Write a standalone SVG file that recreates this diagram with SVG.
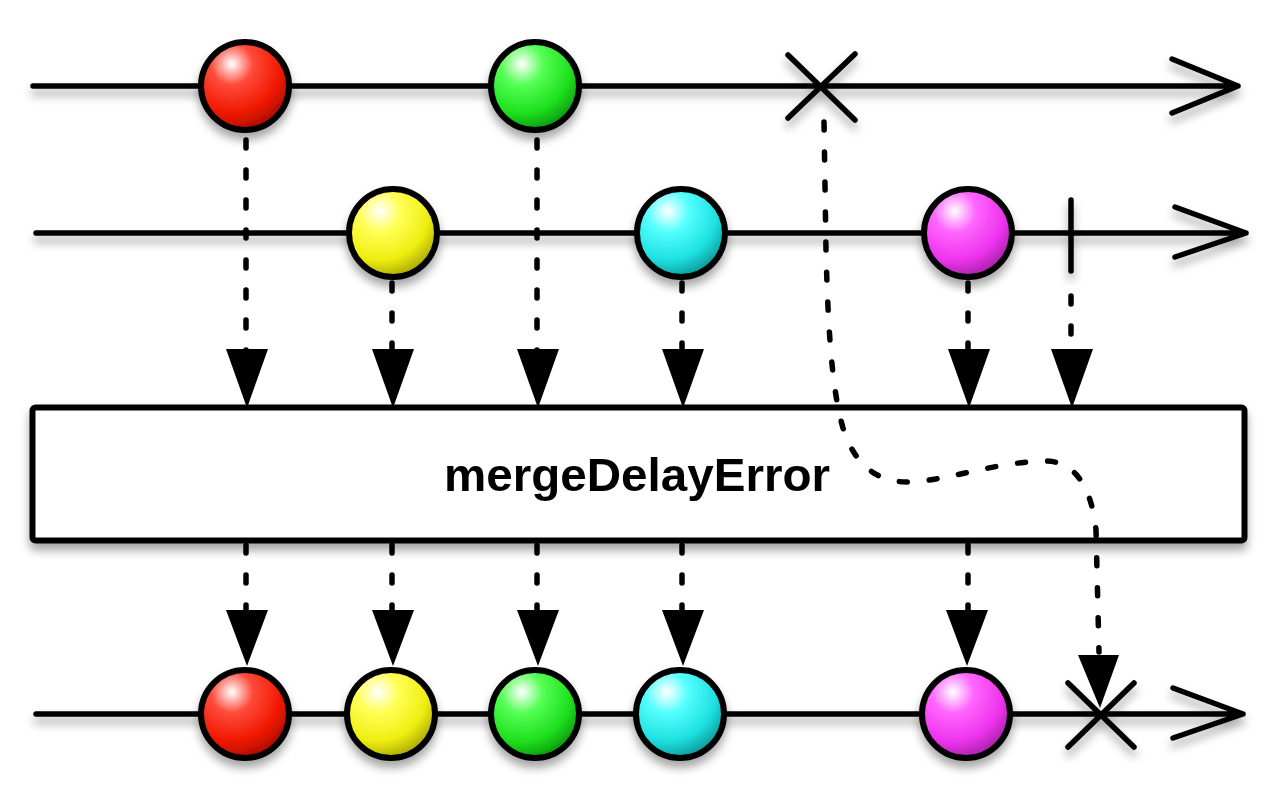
<svg xmlns="http://www.w3.org/2000/svg" width="1280" height="800" viewBox="0 0 1280 800">
<defs>
<filter id="sh" x="-20%" y="-20%" width="140%" height="160%">
<feDropShadow dx="0" dy="7" stdDeviation="5" flood-color="#000" flood-opacity="0.35"/>
</filter>
<radialGradient id="gRed" cx="0.35" cy="0.25" r="0.8"><stop offset="0" stop-color="#ffffff"/><stop offset="0.3" stop-color="#ff4a3a"/><stop offset="0.7" stop-color="#f01800"/><stop offset="1" stop-color="#a00c00"/></radialGradient>
<radialGradient id="gYellow" cx="0.35" cy="0.25" r="0.8"><stop offset="0" stop-color="#ffffff"/><stop offset="0.3" stop-color="#ffff55"/><stop offset="0.7" stop-color="#eeee10"/><stop offset="1" stop-color="#a0a000"/></radialGradient>
<radialGradient id="gGreen" cx="0.35" cy="0.25" r="0.8"><stop offset="0" stop-color="#ffffff"/><stop offset="0.3" stop-color="#55ff55"/><stop offset="0.7" stop-color="#1ee01e"/><stop offset="1" stop-color="#0a900a"/></radialGradient>
<radialGradient id="gCyan" cx="0.35" cy="0.25" r="0.8"><stop offset="0" stop-color="#ffffff"/><stop offset="0.3" stop-color="#55ffff"/><stop offset="0.7" stop-color="#1ee0e0"/><stop offset="1" stop-color="#0a9090"/></radialGradient>
<radialGradient id="gMagenta" cx="0.35" cy="0.25" r="0.8"><stop offset="0" stop-color="#ffffff"/><stop offset="0.3" stop-color="#ff66ff"/><stop offset="0.7" stop-color="#ee33ee"/><stop offset="1" stop-color="#a020a0"/></radialGradient>
</defs>
<style>
.ln{stroke:#000;stroke-width:5.5;fill:none;stroke-linecap:round;stroke-linejoin:round}
.dot{stroke:#000;stroke-width:5.5;fill:none;stroke-linecap:round;stroke-dasharray:8 22}
.mb{stroke:#000;stroke-width:6}
.tri{fill:#000}
.lbl{font-family:"Liberation Sans",Arial,sans-serif;font-weight:bold;font-size:47px;fill:#000}
</style>
<rect width="1280" height="800" fill="#fff"/>

<g id="timelines" filter="url(#sh)">
<path class="ln" d="M33,86 H1238 M1172,59 L1238,86 L1172,113"/>
<path class="ln" d="M36,233 H1246 M1175,207 L1246,233 L1175,257"/>
<path class="ln" d="M36,714 H1243 M1173,688 L1243,714 L1173,738"/>
<path class="ln" d="M788,55 L855,120 M855,54 L788,118"/>
<path class="ln" d="M1071,200 V271"/>
<path class="ln" d="M1068,683 L1134,747 M1134,683 L1068,747"/>
</g>

<g id="box" filter="url(#sh)">
<rect x="32.5" y="407.5" width="1212" height="133" rx="3" fill="#fff" stroke="#000" stroke-width="6"/>
<text class="lbl" x="637" y="491" text-anchor="middle" textLength="386" lengthAdjust="spacingAndGlyphs">mergeDelayError</text>
</g>

<g id="connectors">
<path class="dot" d="M246,140 V352"/>
<path class="dot" d="M392,283 V352"/>
<path class="dot" d="M537,140 V352"/>
<path class="dot" d="M682,283 V352"/>
<path class="dot" d="M968,283 V352"/>
<path class="dot" d="M1071,296 V352"/>
<polygon class="tri" points="226,349 268,349 247,408"/>
<polygon class="tri" points="372,349 414,349 393,408"/>
<polygon class="tri" points="517,349 559,349 538,408"/>
<polygon class="tri" points="662,349 704,349 683,408"/>
<polygon class="tri" points="948,349 990,349 969,408"/>
<polygon class="tri" points="1051,349 1093,349 1072,408"/>

<path class="dot" d="M246,545 V612"/>
<path class="dot" d="M392,545 V612"/>
<path class="dot" d="M537,545 V612"/>
<path class="dot" d="M682,545 V612"/>
<path class="dot" d="M968,545 V612"/>
<polygon class="tri" points="226,610 268,610 247,666"/>
<polygon class="tri" points="372,610 414,610 393,666"/>
<polygon class="tri" points="517,610 559,610 538,666"/>
<polygon class="tri" points="662,610 704,610 683,666"/>
<polygon class="tri" points="946,610 988,610 967,666"/>

<path class="dot" d="M824,122 L826,250 C828,330 832,390 843,428 C855,466 878,483 910,482 C950,480 995,462 1045,461 C1078,461 1092,492 1096,530 L1099,652"/>
<polygon class="tri" points="1078,655 1119,655 1100,708"/>
</g>

<g id="src1">
<circle id="n-red1" cx="245" cy="86" r="44" fill="url(#gRed)" class="mb" filter="url(#sh)"/>
<circle id="n-green1" cx="535" cy="86" r="44" fill="url(#gGreen)" class="mb" filter="url(#sh)"/>
</g>
<g id="src2">
<circle id="n-yellow1" cx="393" cy="233" r="44" fill="url(#gYellow)" class="mb" filter="url(#sh)"/>
<circle id="n-cyan1" cx="681" cy="233" r="44" fill="url(#gCyan)" class="mb" filter="url(#sh)"/>
<circle id="n-magenta1" cx="968" cy="233" r="44" fill="url(#gMagenta)" class="mb" filter="url(#sh)"/>
</g>
<g id="out">
<circle id="n-red2" cx="245" cy="714" r="44" fill="url(#gRed)" class="mb" filter="url(#sh)"/>
<circle id="n-yellow2" cx="391" cy="714" r="44" fill="url(#gYellow)" class="mb" filter="url(#sh)"/>
<circle id="n-green2" cx="535" cy="714" r="44" fill="url(#gGreen)" class="mb" filter="url(#sh)"/>
<circle id="n-cyan2" cx="680" cy="714" r="44" fill="url(#gCyan)" class="mb" filter="url(#sh)"/>
<circle id="n-magenta2" cx="966" cy="714" r="44" fill="url(#gMagenta)" class="mb" filter="url(#sh)"/>
</g>
</svg>
